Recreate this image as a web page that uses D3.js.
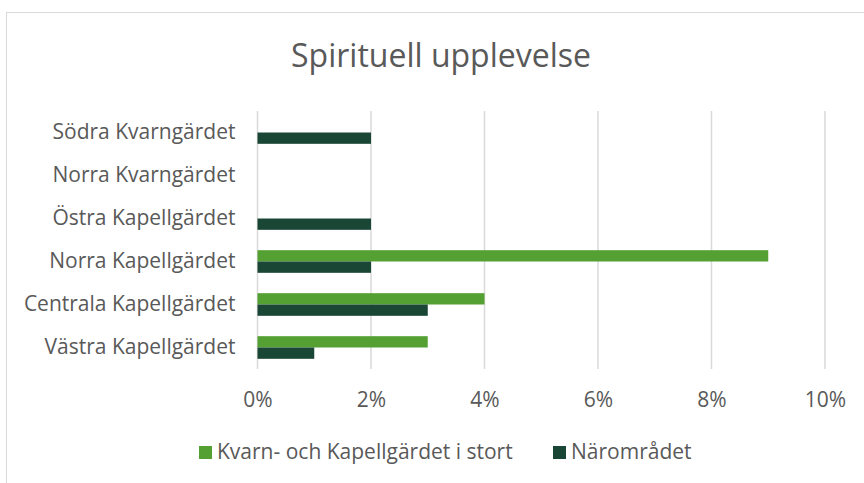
<!DOCTYPE html>
<html lang="sv">
<head>
<meta charset="utf-8">
<title>Spirituell upplevelse</title>
<script src="https://cdn.jsdelivr.net/npm/d3@7"></script>
<style>
  body { margin: 0; background: #fff; }
  svg { font-family: "Open Sans", "Noto Sans", sans-serif; }
</style>
</head>
<body>
<svg id="chart"></svg>
<script>
// data (percent)
var categories = ["Södra Kvarngärdet", "Norra Kvarngärdet", "Östra Kapellgärdet",
                  "Norra Kapellgärdet", "Centrala Kapellgärdet", "Västra Kapellgärdet"];
var seriesNames = ["Kvarn- och Kapellgärdet i stort", "Närområdet"];
var stort = [0, 0, 0, 9, 4, 3];
var naromradet = [2, 0, 2, 2, 3, 1];
var ticks = [0, 2, 4, 6, 8, 10];
var colors = ["#55a033", "#1a4636"];

var svgWidth = 864, svgHeight = 483;
var margin = { top: 111, left: 257.5, right: 39, bottom: 114 };
var width = svgWidth - margin.left - margin.right;
var height = svgHeight - margin.top - margin.bottom;

var svg = d3.select("#chart")
    .attr("width", svgWidth)
    .attr("height", svgHeight);

// chart frame
svg.append("rect")
    .attr("x", 6.5).attr("y", 12.5)
    .attr("width", 900).attr("height", 500)
    .attr("fill", "none")
    .attr("stroke", "#d9d9d9")
    .attr("stroke-width", 1);

svg.append("text")
    .attr("x", 441).attr("y", 67)
    .attr("text-anchor", "middle")
    .style("font-size", "32px")
    .style("fill", "#595959")
    .text("Spirituell upplevelse");

var g = svg.append("g")
    .attr("transform", "translate(" + margin.left + "," + margin.top + ")");

var x = d3.scaleLinear().domain([0, 10]).range([0, width]);
var y = d3.scaleBand().domain(categories).range([0, height]);
var inner = d3.scaleBand().domain(seriesNames)
    .range([0, y.bandwidth()]).paddingOuter(0.9).paddingInner(0);

// gridlines
g.append("g")
    .selectAll("line")
    .data(ticks)
    .enter().append("line")
    .attr("x1", function (d) { return x(d); })
    .attr("x2", function (d) { return x(d); })
    .attr("y1", 0).attr("y2", height)
    .attr("stroke", "#d9d9d9")
    .attr("stroke-width", 1.5);

// x axis labels
var xAxis = g.append("g")
    .attr("transform", "translate(0," + height + ")")
    .call(d3.axisBottom(x).tickValues(ticks).tickSize(0).tickPadding(23)
          .tickFormat(function (d) { return d + "%"; }));
xAxis.select(".domain").remove();
xAxis.selectAll("text")
    .style("font-size", "21px")
    .style("fill", "#595959")
    .style("font-family", "Open Sans, sans-serif");

// y axis labels
var yAxis = g.append("g")
    .call(d3.axisLeft(y).tickSize(0).tickPadding(22));
yAxis.select(".domain").remove();
yAxis.selectAll("text")
    .style("font-size", "21px")
    .style("fill", "#595959")
    .style("font-family", "Open Sans, sans-serif");

// bars
var values = [stort, naromradet];
values.forEach(function (vals, s) {
  g.append("g")
    .selectAll("rect")
    .data(vals)
    .enter().append("rect")
    .attr("x", x(0))
    .attr("y", function (d, i) { return y(categories[i]) + inner(seriesNames[s]); })
    .attr("width", function (d) { return x(d) - x(0); })
    .attr("height", inner.bandwidth())
    .attr("fill", colors[s]);
});

// legend
var legend = svg.append("g");
var legendX = [199, 553];
seriesNames.forEach(function (name, s) {
  legend.append("rect")
    .attr("x", legendX[s]).attr("y", 446)
    .attr("width", 13).attr("height", 13)
    .attr("fill", colors[s]);
  legend.append("text")
    .attr("x", legendX[s] + 18).attr("y", 459)
    .style("font-size", "21px")
    .style("fill", "#595959")
    .text(name);
});
</script>
</body>
</html>
